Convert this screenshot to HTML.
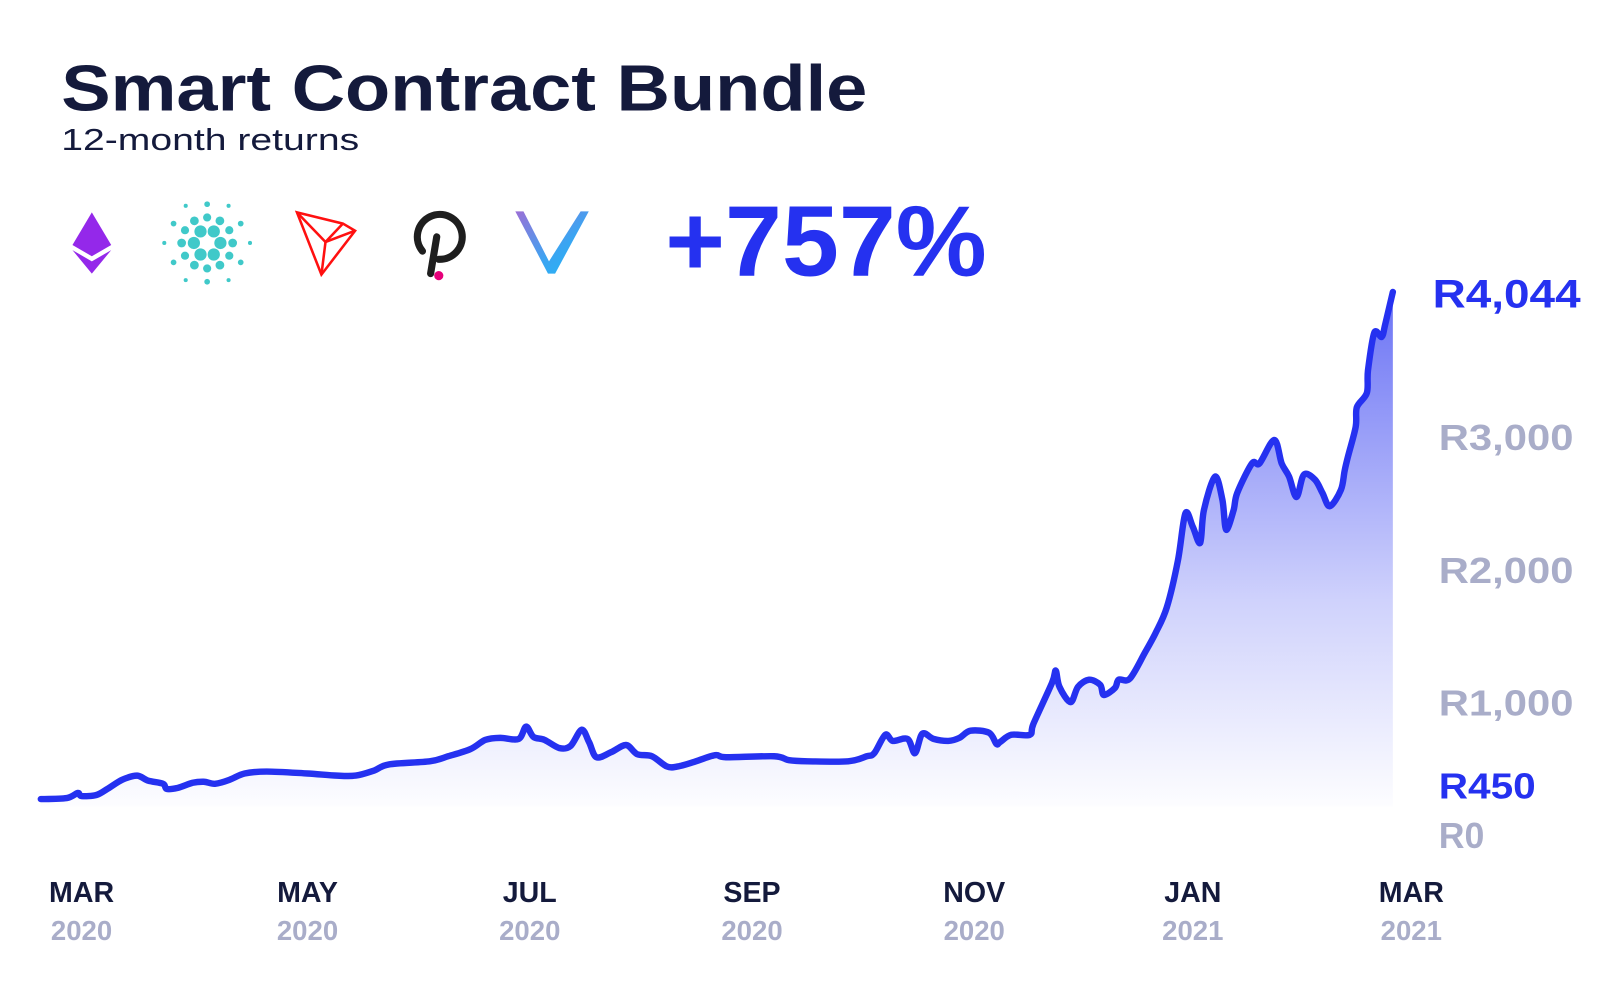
<!DOCTYPE html>
<html><head><meta charset="utf-8"><style>
html,body{margin:0;padding:0;background:#fff;}
svg{display:block;font-family:"Liberation Sans",sans-serif;}
</style></head><body>
<svg id="chart" width="1600" height="989" viewBox="0 0 1568 969" xmlns="http://www.w3.org/2000/svg">
<defs>
<linearGradient id="fillGrad" x1="0" y1="0" x2="0" y2="1" gradientUnits="objectBoundingBox">
<stop offset="0" stop-color="#2531f0" stop-opacity="0.68"/>
<stop offset="0.6" stop-color="#2531f0" stop-opacity="0.22"/>
<stop offset="1" stop-color="#2531f0" stop-opacity="0.01"/>
</linearGradient>
<linearGradient id="vetGrad" x1="0" y1="0" x2="1" y2="1">
<stop offset="0" stop-color="#9b6fd6"/><stop offset="0.6" stop-color="#3aa5f2"/><stop offset="1" stop-color="#1fb8f5"/>
</linearGradient>
</defs>
<text x="60" y="108" font-size="64" font-weight="bold" fill="#141a3c" textLength="790" lengthAdjust="spacingAndGlyphs">Smart Contract Bundle</text>
<text x="60" y="147" font-size="30" fill="#141a3c" textLength="292" lengthAdjust="spacingAndGlyphs">12-month returns</text>
<text x="652" y="270" font-size="98" font-weight="bold" fill="#2531f0" textLength="315" lengthAdjust="spacingAndGlyphs">+757%</text>

<g>
<polygon points="90,208 109,240 90,251 71,240" fill="#9428ea"/>
<polygon points="71,245 90,256 109,245 90,268" fill="#9428ea"/>
</g>
<g id="ada" fill="#40c9c9"></g>
<g fill="none" stroke="#ff1010" stroke-width="2.5" stroke-linejoin="miter">
<polygon points="291,208 336,219 348,226 315,269"/>
<polyline points="291,208 319,237 348,226"/>
<line x1="319" y1="237" x2="315" y2="269"/>
<line x1="336" y1="219" x2="319" y2="237"/>
</g>
<g>
<path d="M414,246 A22,22 0 1 1 430,254" fill="none" stroke="#1e1e1e" stroke-width="7" stroke-linecap="round"/>
<line x1="428" y1="232" x2="422" y2="268" stroke="#1e1e1e" stroke-width="7" stroke-linecap="round"/>
<circle cx="430" cy="270" r="4.5" fill="#e6007a"/>
</g>
<g>
<polygon points="505,207 513,207 538,256 569,207 577,207 544,268 537,268" fill="url(#vetGrad)"/>
</g>

<g id="series"></g>
<g id="yaxis"></g>
<g id="xaxis"></g>
</svg>
<script>
const days=[0,7,10,11,15,18,22,26,29,33,34,37,41,44,47,51,55,61,72,80,85,90,94,105,110,116,120,124,129,131,133,136,140,143,146,148,150,154,158,161,165,169,172,176,182,185,198,202,207,218,223,225,228,230,234,236,238,241,245,248,251,256,258,259,262,267,268,273,274,275,278,280,283,286,287,290,291,294,298,301,304,307,309,311,313,314,317,319,320,322,323,327,329,333,335,337,339,341,344,346,348,351,352,353,355,355.3,358,358.3,360,362,363,365];
const values=[269,277,315,292,300,346,415,446,408,385,346,354,392,400,385,415,462,477,462,446,446,485,531,554,592,646,715,731,723,815,738,715,654,669,792,700,585,623,677,608,592,515,515,546,600,585,592,562,554,554,592,615,754,708,723,615,762,723,708,731,785,769,685,700,754,754,838,1146,1238,1115,1000,1115,1169,1131,1054,1108,1169,1177,1369,1523,1715,2069,2423,2323,2200,2446,2700,2523,2300,2446,2577,2800,2800,2977,2800,2700,2546,2715,2677,2577,2477,2600,2746,2862,3077,3223,3331,3500,3785,3754,3854,4092];
const yTicks=[3000,2000,1000,0];
const yTickLabels=["R3,000","R2,000","R1,000","R0"];
const lastLabel="R4,044";
const startLabel="R450";
const startValue=450;
const monthLabels=["MAR","MAY","JUL","SEP","NOV","JAN","MAR"];
const yearLabels=["2020","2020","2020","2020","2020","2021","2021"];
const monthDays=[11,72,132,192,252,311,370];

const X=d=>40+d*3.63;
const Y=v=>818-v*0.13;
const NS="http://www.w3.org/2000/svg";
function mk(tag,parent,attrs){const e=document.createElementNS(NS,tag);for(const k in attrs)e.setAttribute(k,attrs[k]);parent.appendChild(e);return e;}

// cardano icon
const ada=document.getElementById('ada');
const rings=[[0,13,6,6],[30,25,6,4],[0,25,6,4.3],[30,38,6,2.8],[0,42,6,2]];
rings.forEach(r=>{for(let i=0;i<r[2];i++){const a=(r[0]+i*360/r[2])*Math.PI/180;const c=mk('circle',ada,{cx:(203+r[1]*Math.cos(a)).toFixed(1),cy:(238+r[1]*Math.sin(a)).toFixed(1),r:r[3]});

}});

const g=document.getElementById('series');
const pts=days.map((d,i)=>[X(d),Y(values[i])]);
let line='M'+pts[0][0].toFixed(1)+','+pts[0][1].toFixed(1);
for(let i=0;i<pts.length-1;i++){
const p0=pts[Math.max(0,i-1)],p1=pts[i],p2=pts[i+1],p3=pts[Math.min(pts.length-1,i+2)];
const t=0.16;
const c1=[p1[0]+(p2[0]-p0[0])*t,p1[1]+(p2[1]-p0[1])*t];
const c2=[p2[0]-(p3[0]-p1[0])*t,p2[1]-(p3[1]-p1[1])*t];
line+=' C'+c1[0].toFixed(1)+','+c1[1].toFixed(1)+' '+c2[0].toFixed(1)+','+c2[1].toFixed(1)+' '+p2[0].toFixed(1)+','+p2[1].toFixed(1);
}
const area=line+' L'+pts[pts.length-1][0].toFixed(1)+',790 L'+pts[0][0].toFixed(1)+',790 Z';
const a=mk('path',g,{d:area,fill:'url(#fillGrad)'});


const l=mk('path',g,{d:line,fill:'none',stroke:'#2531f0','stroke-width':6.3,'stroke-linejoin':'round','stroke-linecap':'round'});



const ya=document.getElementById('yaxis');
yTicks.forEach((v,i)=>{const t=mk('text',ya,{x:1410,y:Y(v)+13,'font-size':35,'font-weight':'bold',fill:'#a9adc9'});t.textContent=yTickLabels[i];
if(yTickLabels[i].length>3){t.setAttribute('textLength',132);t.setAttribute('lengthAdjust','spacingAndGlyphs');}

});
const tl=mk('text',ya,{x:1404,y:Y(values[values.length-1])+15,'font-size':39,'font-weight':'bold',fill:'#2531f0',textLength:145,lengthAdjust:'spacingAndGlyphs'});tl.textContent=lastLabel;


const ts=mk('text',ya,{x:1410,y:Y(startValue)+23,'font-size':35,'font-weight':'bold',fill:'#2531f0',textLength:95,lengthAdjust:'spacingAndGlyphs'});ts.textContent=startLabel;



const xa=document.getElementById('xaxis');
monthDays.forEach((d,i)=>{
const m=mk('text',xa,{x:X(d),y:884,'font-size':28,'font-weight':'bold',fill:'#141a3c','text-anchor':'middle'});m.textContent=monthLabels[i];


const y=mk('text',xa,{x:X(d),y:921,'font-size':27,'font-weight':'bold',fill:'#a9adc9','text-anchor':'middle'});y.textContent=yearLabels[i];


});
</script>
</body></html>
